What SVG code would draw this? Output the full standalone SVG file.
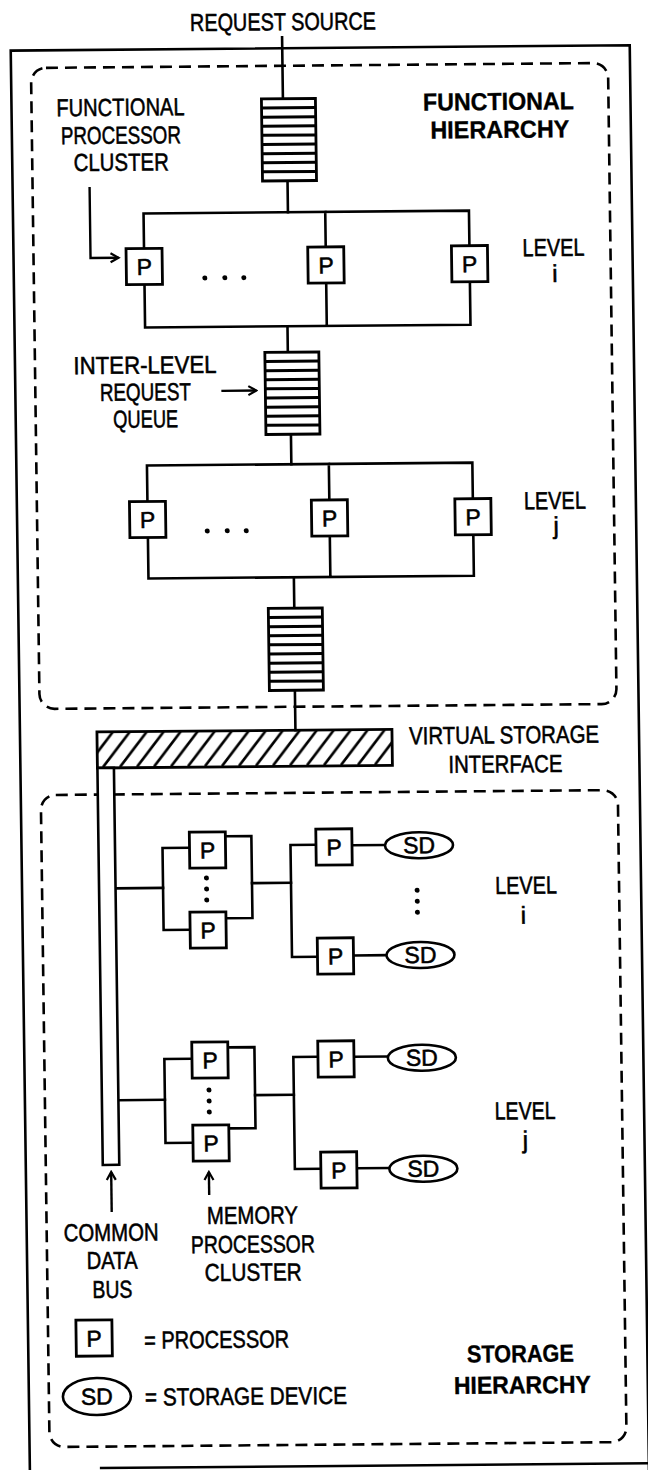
<svg xmlns="http://www.w3.org/2000/svg" xmlns:xlink="http://www.w3.org/1999/xlink" width="648" height="1470" viewBox="0 0 648 1470">
<style>
.ln{fill:none;stroke:#000;stroke-width:2.6;stroke-linecap:square;stroke-linejoin:miter}
.bx{fill:#fff;stroke:#000;stroke-width:2.8}
.sd{fill:#fff;stroke:#000;stroke-width:2.6}
.dash{fill:none;stroke:#000;stroke-width:2.6;stroke-dasharray:12 7}
.fr{fill:none;stroke:#000;stroke-width:2.6}
.t{font-family:"Liberation Sans",Arial,sans-serif;font-size:24.5px;fill:#000;stroke:#000;stroke-width:0.55;text-anchor:middle}
.b{font-weight:bold;stroke-width:0.35}
.p{font-size:23px}
.s{text-anchor:start}
.dot{fill:#000}
.ar{fill:none;stroke:#000;stroke-width:2.4}
</style>
<defs>
<marker id="ah" viewBox="0 0 12 12" refX="10" refY="6" markerWidth="12" markerHeight="12" markerUnits="userSpaceOnUse" orient="auto">
<path d="M2,1.5 L10,6 L2,10.5" fill="none" stroke="#000" stroke-width="2.2"/>
</marker>
<pattern id="hatch" patternUnits="userSpaceOnUse" x="0" y="730" width="17" height="36">
<path d="M0,36 L28,0 M-17,36 L11,0" stroke="#000" stroke-width="2.6"/>
</pattern>
<g id="queue">
<rect x="0" y="0" width="54" height="82" fill="#fff" stroke="#000" stroke-width="2.8"/>
<path d="M0,9.1 H54 M0,18.2 H54 M0,27.3 H54 M0,36.4 H54 M0,45.6 H54 M0,54.7 H54 M0,63.8 H54 M0,72.9 H54" stroke="#000" stroke-width="3"/>
</g>
</defs>
<rect x="0" y="0" width="648" height="1470" fill="#fff"/>
<g transform="matrix(1,-0.0087,0.0135,1,-9.92,2.82)">

<g id="frame">
<path class="fr" d="M20,1474 V48 H639 V1475"/>
<path class="fr" d="M90,1466 H665"/>
</g>

<g id="functional-hierarchy">
<rect class="dash" x="40" y="65.5" width="577" height="641" rx="15"/>
<text class="t b" x="507" y="111.5" textLength="151" lengthAdjust="spacingAndGlyphs">FUNCTIONAL</text>
<text class="t b" x="508" y="139.5" textLength="139" lengthAdjust="spacingAndGlyphs">HIERARCHY</text>
</g>

<g id="storage-hierarchy">
<rect class="dash" x="40" y="792.6" width="577" height="652" rx="15"/>
<text class="t b" x="512" y="1363.7" textLength="107" lengthAdjust="spacingAndGlyphs">STORAGE</text>
<text class="t b" x="513.5" y="1395" textLength="137" lengthAdjust="spacingAndGlyphs">HIERARCHY</text>
</g>

<g id="connectors">
<path class="ln" d="M291.5,37 V98.5"/>
<path class="ln" d="M295,180.5 V212"/>
<path class="ln" d="M150.6,247 V212 H476 V247 M332.3,212 V247"/>
<path class="ln" d="M150.6,283 V326 H476 V283 M332.3,283 V326"/>
<path class="ln" d="M293,326 V352"/>
<path class="ln" d="M295,434 V464"/>
<path class="ln" d="M150.6,500 V464 H476 V500 M332.5,464 V500"/>
<path class="ln" d="M150.6,536 V577 H476 V536 M332.5,536 V577"/>
<path class="ln" d="M296,577 V608"/>
<path class="ln" d="M295.5,690 V730"/>
<path class="ln" d="M113.5,886.5 H161"/>
<path class="ln" d="M188,846.6 H161 V928.6 H187.5"/>
<path class="ln" d="M223.5,835.4 H250 V917.4 H223.5"/>
<path class="ln" d="M250,882.5 H289"/>
<path class="ln" d="M314.5,844.7 H289 V956.7 H314.5"/>
<path class="ln" d="M350.5,845.5 H383.5"/>
<path class="ln" d="M350.5,955.7 H383.5"/>
<path class="ln" d="M113.5,1098.4 H160"/>
<path class="ln" d="M187.6,1057.6 H160 V1141.6 H187.5"/>
<path class="ln" d="M223.6,1046.5 H250.2 V1127.5 H223.5"/>
<path class="ln" d="M250.2,1094.5 H289"/>
<path class="ln" d="M313.6,1056.7 H289 V1168.7 H315"/>
<path class="ln" d="M349.6,1057 H383.5"/>
<path class="ln" d="M351,1168.5 H383.5"/>
<path class="ar" d="M97,185 V256 H125" marker-end="url(#ah)"/>
<path class="ar" d="M226,390 H261" marker-end="url(#ah)"/>
<path class="ar" d="M105.3,1210 V1170" marker-end="url(#ah)"/>
<path class="ar" d="M203,1194 V1171" marker-end="url(#ah)"/>
</g>

<g id="request-source">
<text class="t" x="292.6" y="30" textLength="186" lengthAdjust="spacingAndGlyphs">REQUEST SOURCE</text>
</g>

<g id="queue-1"><use xlink:href="#queue" href="#queue" x="270" y="98.5"/></g>
<g id="queue-2"><use xlink:href="#queue" href="#queue" x="270" y="352"/></g>
<g id="queue-3"><use xlink:href="#queue" href="#queue" x="270" y="608"/></g>

<g id="label-fpc">
<text class="t" x="129" y="114" textLength="128" lengthAdjust="spacingAndGlyphs">FUNCTIONAL</text>
<text class="t" x="129" y="142" textLength="120" lengthAdjust="spacingAndGlyphs">PROCESSOR</text>
<text class="t" x="129" y="169" textLength="95" lengthAdjust="spacingAndGlyphs">CLUSTER</text>
</g>

<g id="label-queue">
<text class="t" x="150" y="372" textLength="143" lengthAdjust="spacingAndGlyphs">INTER-LEVEL</text>
<text class="t" x="150" y="399" textLength="91" lengthAdjust="spacingAndGlyphs">REQUEST</text>
<text class="t" x="150" y="426" textLength="65" lengthAdjust="spacingAndGlyphs">QUEUE</text>
</g>

<g id="func-level-i">
<rect class="bx" x="132.6" y="247" width="36" height="36"/><text class="t p" x="150.6" y="273.5">P</text>
<rect class="bx" x="314.3" y="247" width="36" height="36"/><text class="t p" x="332.3" y="273.5">P</text>
<rect class="bx" x="458" y="247" width="36" height="36"/><text class="t p" x="476" y="273.5">P</text>
<circle class="dot" cx="211" cy="277" r="2.5"/><circle class="dot" cx="231" cy="277" r="2.5"/><circle class="dot" cx="250" cy="277" r="2.5"/>
<text class="t" x="560" y="258" textLength="62" lengthAdjust="spacingAndGlyphs">LEVEL</text>
<text class="t" x="561" y="284">i</text>
</g>

<g id="func-level-j">
<rect class="bx" x="132.6" y="500" width="36" height="36"/><text class="t p" x="150.6" y="526.5">P</text>
<rect class="bx" x="314.5" y="500" width="36" height="36"/><text class="t p" x="332.5" y="526.5">P</text>
<rect class="bx" x="458" y="500" width="36" height="36"/><text class="t p" x="476" y="526.5">P</text>
<circle class="dot" cx="210" cy="530" r="2.5"/><circle class="dot" cx="230" cy="530" r="2.5"/><circle class="dot" cx="249" cy="530" r="2.5"/>
<text class="t" x="558" y="511" textLength="62" lengthAdjust="spacingAndGlyphs">LEVEL</text>
<text class="t" x="559" y="536">j</text>
</g>

<g id="virtual-storage-interface">
<rect x="97" y="730" width="295" height="36" fill="url(#hatch)" stroke="#000" stroke-width="2.8"/>
<text class="t" x="504" y="745" textLength="190" lengthAdjust="spacingAndGlyphs">VIRTUAL STORAGE</text>
<text class="t" x="505" y="774" textLength="114" lengthAdjust="spacingAndGlyphs">INTERFACE</text>
</g>

<g id="common-data-bus">
<rect x="97" y="766" width="16.5" height="397" fill="#fff" stroke="#000" stroke-width="2.6"/>
<text class="t" x="104.5" y="1239" textLength="95" lengthAdjust="spacingAndGlyphs">COMMON</text>
<text class="t" x="105" y="1267" textLength="51" lengthAdjust="spacingAndGlyphs">DATA</text>
<text class="t" x="105" y="1296" textLength="40" lengthAdjust="spacingAndGlyphs">BUS</text>
</g>

<g id="storage-level-i">
<rect class="bx" x="188" y="831" width="36" height="36"/><text class="t p" x="206" y="857.5">P</text>
<rect class="bx" x="187.5" y="911" width="36" height="36"/><text class="t p" x="205.5" y="937.5">P</text>
<circle class="dot" cx="204.5" cy="877" r="2.5"/><circle class="dot" cx="204.5" cy="888" r="2.5"/><circle class="dot" cx="204.5" cy="899" r="2.5"/>
<rect class="bx" x="314.5" y="829" width="36" height="36"/><text class="t p" x="332.5" y="855.5">P</text>
<rect class="bx" x="314.5" y="938" width="36" height="36"/><text class="t p" x="332.5" y="964.5">P</text>
<ellipse class="sd" cx="417.5" cy="846" rx="34" ry="13"/><text class="t p" x="417.5" y="854">SD</text>
<ellipse class="sd" cx="417.5" cy="955.8" rx="34" ry="13"/><text class="t p" x="417.5" y="963.8">SD</text>
<circle class="dot" cx="415" cy="891" r="2.5"/><circle class="dot" cx="415" cy="902" r="2.5"/><circle class="dot" cx="415" cy="913" r="2.5"/>
<text class="t" x="524" y="895.5" textLength="62" lengthAdjust="spacingAndGlyphs">LEVEL</text>
<text class="t" x="521" y="925.5">i</text>
</g>

<g id="storage-level-j">
<rect class="bx" x="187.6" y="1041" width="36" height="36"/><text class="t p" x="205.6" y="1067.5">P</text>
<rect class="bx" x="187.5" y="1124" width="36" height="36"/><text class="t p" x="205.5" y="1150.5">P</text>
<circle class="dot" cx="204.2" cy="1089" r="2.5"/><circle class="dot" cx="204.2" cy="1100" r="2.5"/><circle class="dot" cx="204.2" cy="1111" r="2.5"/>
<rect class="bx" x="313.6" y="1041" width="36" height="36"/><text class="t p" x="331.6" y="1067.5">P</text>
<rect class="bx" x="315" y="1152" width="36" height="36"/><text class="t p" x="333" y="1178.5">P</text>
<ellipse class="sd" cx="417.5" cy="1058.5" rx="34" ry="13"/><text class="t p" x="417.5" y="1066.5">SD</text>
<ellipse class="sd" cx="417.5" cy="1169.5" rx="34" ry="13"/><text class="t p" x="417.5" y="1177.5">SD</text>
<text class="t" x="520" y="1121" textLength="61" lengthAdjust="spacingAndGlyphs">LEVEL</text>
<text class="t" x="520" y="1150">j</text>
</g>

<g id="label-mpc">
<text class="t" x="246" y="1223" textLength="91" lengthAdjust="spacingAndGlyphs">MEMORY</text>
<text class="t" x="246" y="1252" textLength="124" lengthAdjust="spacingAndGlyphs">PROCESSOR</text>
<text class="t" x="246" y="1280" textLength="97" lengthAdjust="spacingAndGlyphs">CLUSTER</text>
</g>

<g id="legend">
<rect class="bx" x="68" y="1318" width="36" height="36"/><text class="t p" x="86" y="1344.5">P</text>
<text class="t s" x="136" y="1347" textLength="145" lengthAdjust="spacingAndGlyphs">= PROCESSOR</text>
<ellipse class="sd" cx="88" cy="1394.5" rx="34" ry="18.5"/><text class="t p" x="88" y="1402.5">SD</text>
<text class="t s" x="136" y="1404" textLength="202" lengthAdjust="spacingAndGlyphs">= STORAGE DEVICE</text>
</g>

</g>
</svg>
